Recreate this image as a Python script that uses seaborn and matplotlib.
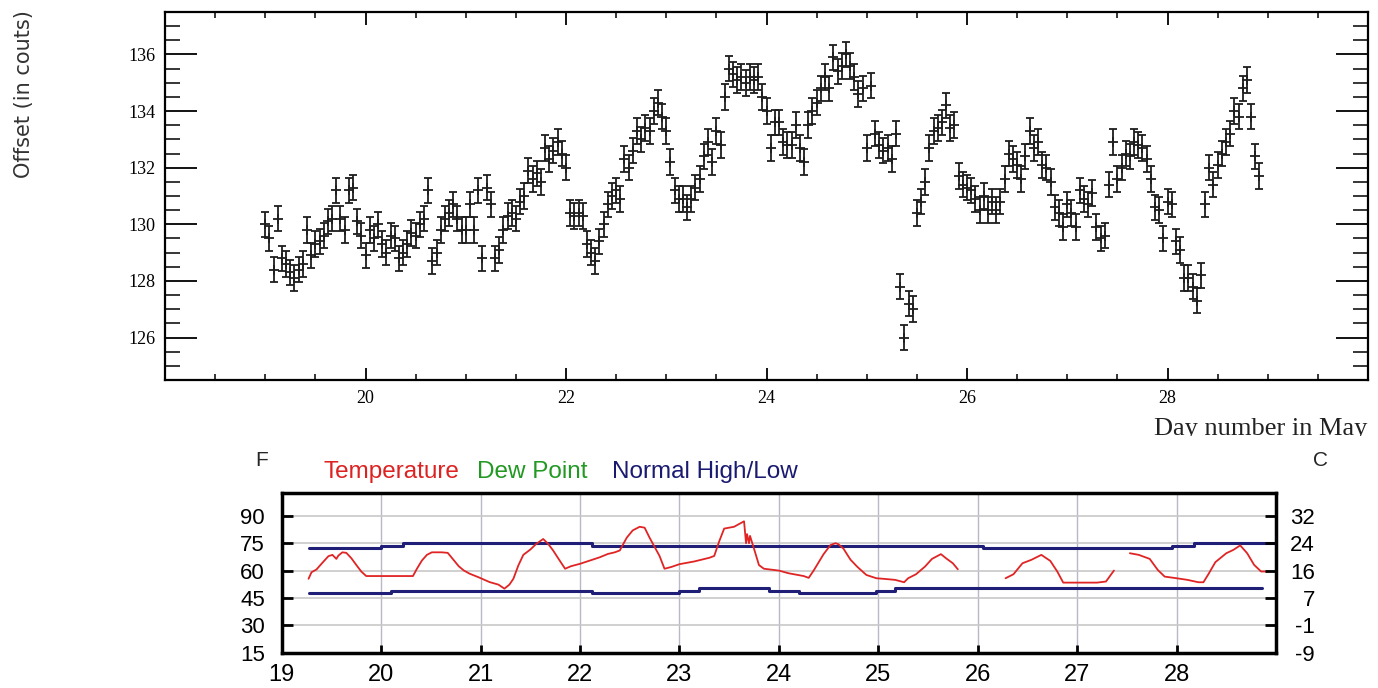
import numpy as np
import pandas as pd
import matplotlib
matplotlib.use("Agg")
import matplotlib.pyplot as plt
from matplotlib.ticker import MultipleLocator
from matplotlib.patches import Rectangle
import seaborn as sns

# hourly offsets (counts), starting May 19 00h
off_19 = [130.0, 129.5, 128.4, 130.2, 128.8, 128.6, 128.3, 128.1, 128.4, 128.6, 129.8, 128.9,
          129.3, 129.4, 129.6, 130.1, 130.2, 131.2, 130.2, 129.8, 131.2, 131.3, 130.1, 129.6]
off_20 = [128.9, 129.8, 129.5, 130.0, 129.3, 129.0, 129.6, 129.5, 128.8, 129.0, 129.3, 129.7,
          129.6, 130.0, 130.2, 131.2, 128.7, 129.0, 129.8, 130.2, 130.4, 130.7, 130.2, 129.8]
off_21 = [129.8, 130.7, 129.8, 131.2, 128.8, 131.3, 130.7, 128.8, 129.1, 129.8, 130.3, 130.4,
          130.2, 130.8, 131.0, 131.9, 131.6, 131.8, 131.5, 132.7, 132.3, 132.6, 132.9, 132.5]
off_22 = [132.0, 130.4, 130.3, 130.4, 130.3, 129.3, 129.0, 128.7, 129.4, 130.0, 130.7, 131.0,
          131.2, 130.9, 132.3, 132.0, 132.6, 133.3, 133.0, 133.4, 133.3, 134.0, 134.3, 133.8]
off_23 = [133.3, 132.2, 131.2, 130.9, 130.9, 130.6, 130.9, 131.3, 131.6, 132.4, 132.9, 132.2,
          133.3, 132.8, 134.5, 135.5, 135.3, 135.1, 135.2, 135.0, 135.2, 135.1, 135.2, 134.5]
off_24 = [134.0, 132.7, 133.6, 133.6, 132.9, 132.8, 132.8, 133.5, 132.7, 132.2, 133.5, 134.0,
          134.3, 134.8, 135.2, 134.8, 135.9, 135.4, 135.6, 136.0, 135.6, 135.2, 134.6, 134.8]
off_25 = [132.7, 134.9, 133.2, 132.8, 132.6, 132.7, 132.3, 133.2, 127.8, 126.0, 127.2, 127.0,
          130.4, 130.8, 131.5, 132.7, 133.3, 133.4, 133.6, 134.2, 133.4, 133.5, 131.7, 131.4]
off_26 = [131.3, 131.2, 130.9, 130.5, 131.0, 130.5, 130.8, 130.5, 130.8, 131.6, 132.5, 132.3,
          132.1, 131.6, 132.4, 133.3, 132.7, 132.9, 132.1, 132.0, 131.5, 130.6, 130.4, 129.9]
off_27 = [130.7, 130.4, 129.9, 131.2, 130.9, 130.7, 131.1, 129.9, 129.5, 129.6, 131.4, 132.9,
          131.6, 132.0, 132.5, 132.4, 132.9, 132.8, 132.7, 132.3, 131.6, 130.6, 130.5, 129.5]
off_28 = [130.8, 130.7, 129.4, 129.1, 128.1, 128.1, 127.8, 127.3, 128.2, 130.7, 132.0, 131.4,
          132.1, 132.5, 132.9, 133.2, 134.0, 133.8, 134.8, 135.1, 133.8, 132.4, 131.7]
offset_err = 0.45

# temperature (F), three pieces with gaps in between
temp_day_a = [19.27, 19.30, 19.35, 19.40, 19.47, 19.51, 19.55, 19.57, 19.61, 19.65,
              19.70, 19.75, 19.80, 19.85, 19.95, 20.09, 20.22, 20.32, 20.36, 20.41,
              20.46, 20.51, 20.61, 20.67, 20.72, 20.78, 20.83, 20.89, 20.99, 21.09,
              21.18, 21.24, 21.29, 21.33, 21.38, 21.43, 21.50, 21.56, 21.63, 21.68,
              21.73, 21.78, 21.85, 21.91, 22.00, 22.10, 22.20, 22.28, 22.35, 22.40,
              22.47, 22.53, 22.60, 22.65, 22.70, 22.80, 22.85, 22.92, 23.00, 23.15,
              23.30, 23.35, 23.40, 23.45, 23.55, 23.65, 23.67, 23.68, 23.70, 23.71,
              23.75, 23.80, 23.85, 24.00, 24.10, 24.25, 24.30, 24.35, 24.45, 24.52,
              24.57, 24.60, 24.65, 24.72, 24.79, 24.88, 24.98, 25.07, 25.17, 25.26,
              25.30, 25.38, 25.47, 25.54, 25.63, 25.68, 25.75, 25.80]
temp_f_a = [55.5, 59.1, 60.6, 63.7, 67.9, 68.6, 66.4, 68.2, 70.0, 69.7,
            66.8, 63.1, 59.5, 57.0, 57.0, 57.0, 57.0, 57.0, 61.0, 65.5,
            68.6, 70.0, 70.0, 69.7, 66.4, 62.4, 60.1, 58.3, 56.1, 53.7,
            52.3, 50.1, 52.3, 55.5, 62.8, 68.6, 71.5, 74.6, 77.3, 74.6,
            71.0, 66.8, 61.0, 62.4, 63.7, 65.5, 67.3, 69.1, 70.0, 71.0,
            78.0, 82.0, 84.0, 83.5, 78.0, 68.0, 61.0, 62.0, 63.5, 65.0,
            67.0, 68.0, 76.0, 83.0, 84.0, 87.0, 75.0, 80.0, 75.0, 79.0,
            72.0, 63.0, 61.0, 60.0, 58.5, 57.0, 56.0, 60.0, 69.0, 74.0,
            75.0, 74.4, 72.0, 66.0, 62.0, 57.6, 55.8, 55.4, 54.9, 53.6,
            55.8, 58.0, 62.2, 66.4, 69.0, 66.8, 64.0, 60.7]
temp_day_b = [26.28, 26.36, 26.45, 26.54, 26.64, 26.73, 26.80, 26.86, 26.99, 27.20, 27.29, 27.37]
temp_f_b = [55.8, 58.0, 64.0, 65.9, 68.6, 65.3, 59.5, 53.4, 53.4, 53.4, 54.0, 60.0]
temp_day_c = [27.53, 27.62, 27.73, 27.81, 27.88, 28.00, 28.11, 28.22, 28.27, 28.32,
              28.39, 28.50, 28.57, 28.64, 28.71, 28.78, 28.85, 28.90]
temp_f_c = [69.5, 68.6, 66.4, 60.4, 56.7, 55.8, 54.9, 53.6, 53.6, 58.0,
            64.6, 69.5, 71.3, 73.8, 69.5, 63.1, 59.5, 59.5]

# normal high / low (F), step changes
high_day = [19.27, 20.0, 20.22, 22.12, 26.05, 27.95, 28.18, 29.0]
high_f = [72.2, 73.6, 74.9, 73.5, 72.2, 73.6, 74.9, 74.9]
low_day = [19.27, 20.1, 22.12, 23.0, 23.2, 23.9, 24.2, 24.98, 25.17, 28.86]
low_f = [47.7, 48.9, 47.7, 48.9, 50.3, 48.9, 47.7, 48.9, 50.3, 50.3]

f_ticks = [15, 30, 45, 60, 75, 90]
c_labels = ["-9", "-1", "7", "16", "24", "32"]

sns.set_theme(style="white")
plt.rcParams['font.family'] = ['DejaVu Sans']

W, H = 1378, 688
fig = plt.figure(figsize=(W / 100, H / 100), dpi=100)

# ---- top panel: offset vs day ----
offset = off_19 + off_20 + off_21 + off_22 + off_23 + off_24 + off_25 + off_26 + off_27 + off_28
days = 19.0 + np.arange(len(offset)) / 24

ax = fig.add_axes([165 / W, 1 - 380 / H, 1203 / W, 368 / H])
ax.errorbar(days, offset, yerr=offset_err, fmt='none', ecolor='#1e1e1e',
            elinewidth=1.3, capsize=3, capthick=1.3)
sns.scatterplot(x=days, y=offset, marker='+', s=50, color='#1e1e1e', linewidth=1.3, ax=ax)
ax.set_xlim(18, 30)
ax.set_ylim(124.5, 137.5)
ax.set_xticks([20, 22, 24, 26, 28])
ax.set_yticks([126, 128, 130, 132, 134, 136])
ax.xaxis.set_minor_locator(MultipleLocator(0.5))
ax.yaxis.set_minor_locator(MultipleLocator(0.5))
ax.tick_params(which='both', direction='in', top=True, right=True, bottom=True, left=True,
               colors='black', labelsize=13, labelfontfamily='Liberation Serif')
ax.tick_params(axis='y', which='major', length=23, width=1.3, pad=7)
ax.tick_params(axis='y', which='minor', length=11, width=1.1)
ax.tick_params(axis='x', which='major', length=9, width=1.3, pad=7)
ax.tick_params(axis='x', which='minor', length=4.5, width=1.1)
for s in ax.spines.values():
    s.set_color('black')
    s.set_linewidth(1.6)

fig.text(24 / W, 1 - 10 / H, "Offset (in couts)", rotation=90, ha='center', va='top',
         fontsize=15, color='#333333', family='DejaVu Sans')
fig.text(1367 / W, 1 - 435 / H, "Day number in May", ha='right', va='baseline',
         fontsize=19, family='Liberation Serif', color='#222222')
# the label is cut off at its baseline in the original
fig.add_artist(Rectangle((1100 / W, 1 - 447 / H), 278 / W, 11 / H, transform=fig.transFigure,
                         facecolor='white', edgecolor='none', zorder=10))

# ---- bottom panel: temperature ----
ax_t = fig.add_axes([281.7 / W, 1 - 652.7 / H, 994.3 / W, 159.7 / H])
temp_df = pd.concat([
    pd.DataFrame({'day': temp_day_a, 'temp': temp_f_a, 'seg': 'a'}),
    pd.DataFrame({'day': temp_day_b, 'temp': temp_f_b, 'seg': 'b'}),
    pd.DataFrame({'day': temp_day_c, 'temp': temp_f_c, 'seg': 'c'}),
])
norm_df = pd.concat([
    pd.DataFrame({'day': high_day, 'temp': high_f, 'seg': 'high'}),
    pd.DataFrame({'day': low_day, 'temp': low_f, 'seg': 'low'}),
])
sns.lineplot(data=norm_df, x='day', y='temp', units='seg', estimator=None, color='#1f1f78',
             lw=2.2, drawstyle='steps-post', legend=False, ax=ax_t, zorder=3)
sns.lineplot(data=temp_df, x='day', y='temp', units='seg', estimator=None, color='#e02424',
             lw=1.3, legend=False, ax=ax_t, zorder=4)
ax_t.set_xlim(19, 29)
ax_t.set_ylim(15, 102.5)
ax_t.set_xticks(range(19, 29))
ax_t.set_yticks(f_ticks)
ax_t.set_xlabel("")
ax_t.set_ylabel("")
ax_t.grid(axis='y', color='#c8c8c8', lw=1.2)
ax_t.grid(axis='x', color='#b8b8c8', lw=1.0)
ax_t.set_axisbelow(True)
ax_t.tick_params(axis='x', direction='in', length=6, width=2, pad=8, bottom=True, top=False,
                 labelsize=17, colors='black')
ax_t.tick_params(axis='y', direction='in', length=8, width=2, pad=12, left=True,
                 labelsize=16, colors='black')
for lab in ax_t.get_xticklabels() + ax_t.get_yticklabels():
    lab.set_family('Liberation Sans')
for s in ax_t.spines.values():
    s.set_color('black')
    s.set_linewidth(2.5)

ax_c = ax_t.twinx()
ax_c.set_ylim(ax_t.get_ylim())
ax_c.set_yticks(f_ticks, c_labels)
ax_c.grid(False)
ax_c.tick_params(axis='y', direction='in', length=8, width=2, pad=28, right=True,
                 labelsize=16, colors='black')
for lab in ax_c.get_yticklabels():
    lab.set_family('Liberation Sans')
    lab.set_ha('right')
for s in ax_c.spines.values():
    s.set_visible(False)

fig.text(262 / W, 1 - 460 / H, "F", ha='center', va='center', fontsize=15, family='Liberation Sans')
fig.text(1321 / W, 1 - 460 / H, "C", ha='center', va='center', fontsize=15, family='Liberation Sans')
fig.text(323 / W, 1 - 472 / H, "Temperature", ha='left', va='center', fontsize=17.5,
         family='Liberation Sans', color='#dd2222')
fig.text(477 / W, 1 - 472 / H, "Dew Point", ha='left', va='center', fontsize=17.5,
         family='Liberation Sans', color='#229922')
fig.text(612 / W, 1 - 472 / H, "Normal High/Low", ha='left', va='center', fontsize=17.5,
         family='Liberation Sans', color='#1a1a70')

fig.savefig("out.png", dpi=100)
